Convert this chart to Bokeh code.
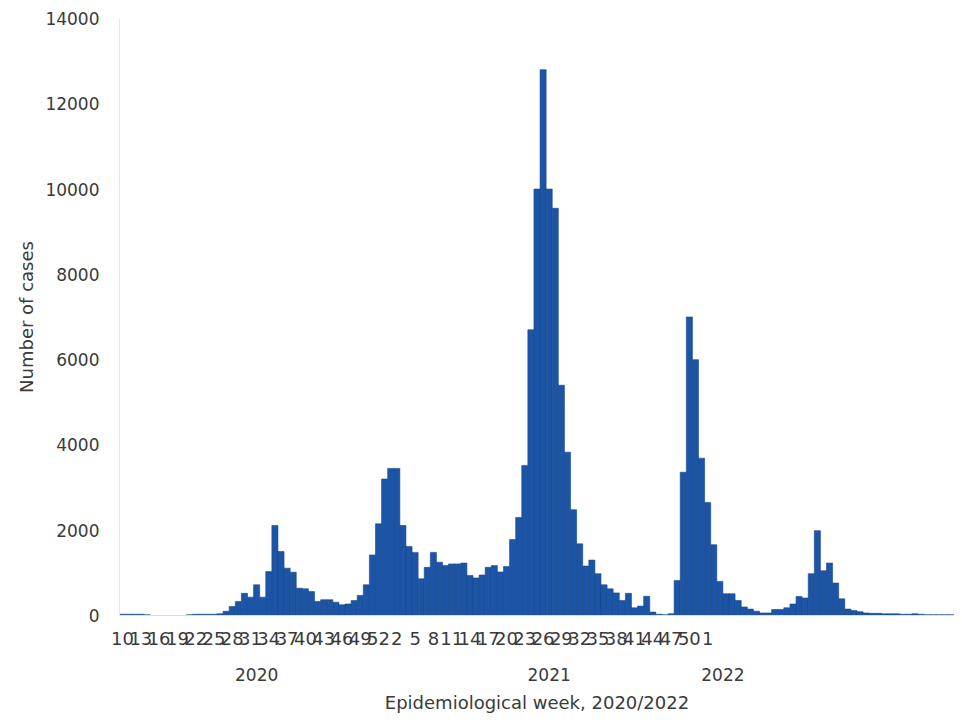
from bokeh.plotting import figure
from bokeh.models import FixedTicker, LinearAxis, ColumnDataSource
from bokeh.embed import file_html
from bokeh.resources import INLINE

# weekly case counts, 2020 week 10 .. 2022 week 41
cases = [30, 30, 30, 30, 20, 0, 0, 0, 0, 0, 0, 20, 30, 30, 30, 30,
         40, 100, 210, 330, 520, 430, 720, 430, 1030, 2110, 1500, 1110, 1015, 640,
         625, 560, 330, 370, 370, 310, 250, 270, 350, 470, 720, 1420, 2150, 3200,
         3450, 3450, 2110, 1620, 1480, 860, 1130, 1480, 1250, 1170, 1210, 1210, 1230,
         940, 880, 950, 1130, 1170, 1020, 1150, 1780, 2300, 3520, 6700, 10000, 12800,
         10000, 9550, 5400, 3830, 2480, 1680, 1160, 1300, 980, 720, 625, 530, 350,
         520, 180, 220, 450, 80, 30, 20, 40,
         820, 3360, 7000, 6000, 3690, 2650, 1660, 800, 510, 510, 350, 200, 150, 100,
         60, 60, 140, 140, 180, 270, 445, 410, 980, 1990, 1050, 1230, 760, 390, 150,
         115, 90, 60, 50, 50, 40, 40, 40, 30, 30, 40, 30, 20, 20, 20, 20, 20]

weeks = list(range(10, 54)) + list(range(1, 53)) + list(range(1, 42))
tick_idx = list(range(0, 97, 3))
year_labels = ["2020", "2021", "2022"]
year_pos = [22, 70, 98.5]

n = len(cases)
src = ColumnDataSource(dict(x=list(range(n)), top=cases[:n]))

p = figure(width=954, height=715, x_range=(-0.5, n - 0.5), y_range=(0, 14000),
           output_backend="svg", toolbar_location=None,
           min_border_left=119, min_border_top=18, min_border_bottom=100, min_border_right=0)
p.vbar(x="x", top="top", width=1.0, source=src, fill_color="#1c55a6",
       line_color="#17468c", line_width=0.6)

p.xgrid.grid_line_color = None
p.ygrid.grid_line_color = None
p.outline_line_color = None

yr_axis = LinearAxis(ticker=FixedTicker(ticks=year_pos),
                     major_label_overrides={x: t for x, t in zip(year_pos, year_labels)})
p.add_layout(yr_axis, "below")

p.xaxis[0].ticker = FixedTicker(ticks=tick_idx)
p.xaxis[0].major_label_overrides = {i: str(weeks[i]) for i in tick_idx}
p.yaxis.ticker = FixedTicker(ticks=list(range(0, 14001, 2000)))
for ax in [p.xaxis[0], yr_axis, p.yaxis[0]]:
    ax.major_tick_line_color = None
    ax.minor_tick_line_color = None
    ax.major_label_text_font = "DejaVu Sans"
    ax.major_label_text_font_size = "17px"
    ax.major_label_text_color = "#3a3a3a"
    ax.axis_label_text_font = "DejaVu Sans"
    ax.axis_label_text_font_size = "18px"
    ax.axis_label_text_font_style = "normal"
    ax.axis_label_text_color = "#3a3a3a"
p.xaxis[0].major_label_text_font_size = "18px"
p.yaxis.axis_line_color = "#e4e8ee"
p.xaxis[0].axis_line_color = "#d8dde6"
yr_axis.axis_line_color = None
yr_axis.major_label_standoff = 14
p.xaxis[0].major_label_standoff = 10
p.yaxis.major_label_standoff = 14
p.yaxis.axis_label = "Number of cases"
yr_axis.axis_label = "Epidemiological week, 2020/2022"
yr_axis.axis_label_standoff = 8

open("out.html", "w").write(file_html(p, INLINE))
